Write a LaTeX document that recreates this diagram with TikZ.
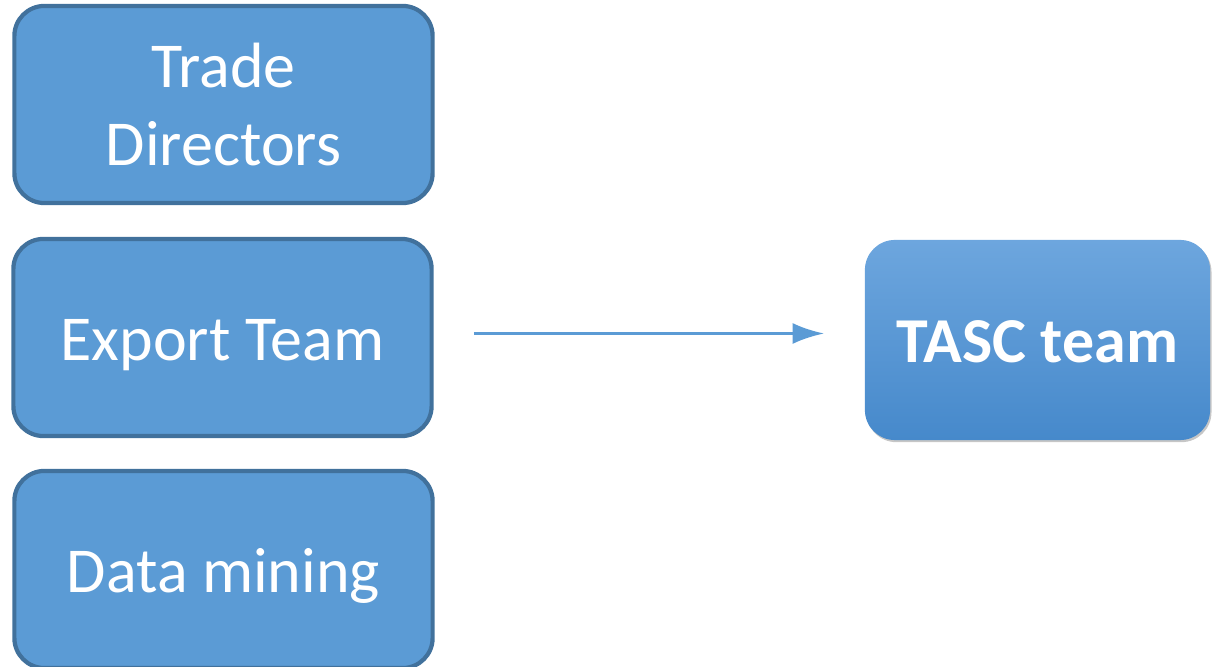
\documentclass[tikz,border=0pt]{standalone}
\usepackage{fontspec}
\setmainfont{Carlito}
\usetikzlibrary{arrows.meta,shadows,positioning}
\definecolor{BoxBlue}{HTML}{5B9BD5}
\definecolor{BoxEdge}{HTML}{41719C}
\definecolor{TopBlue}{HTML}{6DA6DE}
\definecolor{LowBlue}{HTML}{4689CB}
\tikzset{
    block/.style = {draw=BoxEdge, fill=BoxBlue, line width=1.2pt, rectangle,
        rounded corners=0.3cm, text=white, align=center,
        font=\fontsize{18.2}{22}\selectfont,
        minimum width=4.18cm, minimum height=1.97cm},
    oneline/.style = {text height=0.45cm, text depth=0cm},
    target/.style = {rectangle, rounded corners=0.3cm, text=white,
        top color=TopBlue, bottom color=LowBlue,
        drop shadow={shadow xshift=0.4pt, shadow yshift=-0.6pt, opacity=0.45},
        font=\fontsize{18.2}{22}\selectfont\bfseries,
        minimum width=3.45cm, minimum height=2cm},
    arrow/.style = {draw=BoxBlue, line width=0.9pt, -{Latex[length=9pt,width=6pt]}}
}
\begin{document}
\begin{tikzpicture}[x=0.01cm,y=0.01cm]
    \useasboundingbox (0,0) rectangle (1212,667);
    \node[block] (trade) at (223.5,562.5) {Trade\\Directors};
    \node[block,oneline] (export) at (222.5,329.5) {Export Team};
    \node[block,oneline] (mining) at (223.5,97.5) {Data mining};
    \node[target,oneline] (tasc) at (1037.5,327) {TASC team};
    \coordinate (start) at ([xshift=0.4cm,yshift=0.04cm]export.east);
    \coordinate (tip) at ([xshift=-0.4cm]tasc.west);
    \path[arrow] (start) -- (start -| tip);
\end{tikzpicture}
\end{document}
